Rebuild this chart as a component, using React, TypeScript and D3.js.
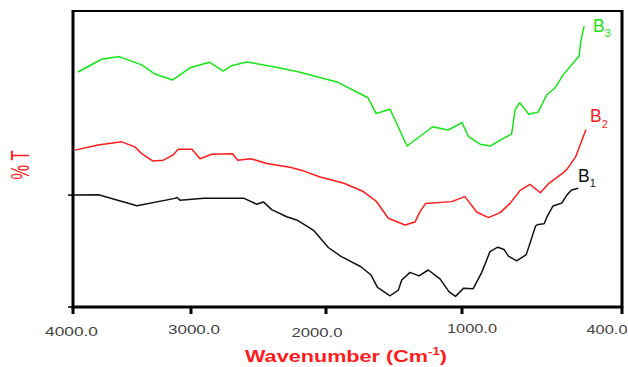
import { line, scaleLinear } from 'd3'

// wavenumber (cm-1), %T
const seriesB3: [number, number][] = [
	[3958, 79.4], [3757, 83.7], [3608, 84.6], [3418, 81.8], [3305, 78.7], [3155, 76.7], [3008, 80.8],
	[2864, 82.7], [2761, 79.7], [2706, 81.4], [2587, 82.8], [2390, 81.2], [2207, 79.5], [1912, 75.9],
	[1691, 70.7], [1632, 65.4], [1529, 66.8], [1404, 54.4], [1215, 60.9], [1101, 59.8], [1000, 62.3],
	[976, 57.6], [932, 55.0], [892, 54.4], [857, 56.4], [814, 58.4], [801, 66.6], [784, 69.0],
	[749, 65.1], [714, 65.9], [682, 71.7], [651, 74.0], [620, 78.5], [561, 84.8], [554, 89.9], [542, 94.9],
]

const seriesB2: [number, number][] = [
	[3983, 53.0], [3788, 54.7], [3587, 55.8], [3475, 54.1], [3418, 51.8], [3322, 49.3], [3235, 49.6],
	[3150, 51.4], [3108, 53.3], [2993, 53.3], [2933, 50.1], [2847, 51.6], [2693, 51.8], [2653, 49.6],
	[2556, 50.1], [2439, 48.5], [2267, 47.2], [2168, 46.0], [2044, 43.9], [1868, 41.8], [1726, 39.0],
	[1632, 35.8], [1542, 30.0], [1419, 27.7], [1346, 28.7], [1309, 32.2], [1267, 35.0], [1076, 35.6],
	[989, 37.3], [945, 32.1], [901, 30.2], [857, 31.9], [820, 35.0], [782, 39.4], [745, 41.4],
	[706, 38.6], [676, 41.6], [620, 45.4], [606, 46.6], [574, 50.7], [535, 60.0],
]

const seriesB1: [number, number][] = [
	[3997, 37.8], [3784, 37.9], [3458, 34.2], [3136, 36.7], [3119, 37.0], [3093, 36.1], [2904, 36.7],
	[2607, 36.7], [2513, 34.7], [2464, 35.5], [2402, 32.9], [2291, 30.5], [2217, 29.4], [2094, 26.0],
	[1983, 20.1], [1890, 17.1], [1743, 13.6], [1669, 10.8], [1621, 6.6], [1529, 3.8], [1468, 5.7],
	[1443, 9.1], [1382, 11.7], [1316, 10.5], [1248, 12.5], [1162, 9.5], [1096, 5.2], [1048, 3.6],
	[1002, 5.7], [995, 6.3], [958, 6.2], [926, 11.7], [895, 18.7], [866, 20.2], [842, 19.4],
	[826, 17.2], [795, 15.6], [759, 17.7], [724, 27.4], [714, 27.9], [692, 28.1], [681, 30.5],
	[659, 34.1], [639, 34.7], [626, 35.1], [607, 37.8], [589, 39.5], [564, 40.1],
]

const xTicks = [4000, 3000, 2000, 1000, 400]
const xTickLabels = ['4000.0', '3000.0', '2000.0', '1000.0', '400.0']
const yTicks = [0, 37.8]

// the original axis is not linear: each 1000 cm-1 gets its own width
const x = scaleLinear().domain([4000, 3000, 2000, 1000, 400]).range([73, 191, 326, 462, 622])
const y = scaleLinear().domain([0, 100]).range([307, 11])

// label placement (labels do not sit exactly on ticks)
const labelLayout = [
	{ dx: -1.5, y: 336, w: 53 },
	{ dx: 3, y: 334, w: 52 },
	{ dx: -9, y: 337, w: 51 },
	{ dx: 10, y: 333, w: 50 },
	{ dx: -15, y: 334, w: 41 },
]

const GREEN = '#14e614'
const RED = '#ff1c1c'
const BLACK = '#111111'
const FONT = 'Arial, "Liberation Sans", sans-serif'

export default function App() {
	const path = line<[number, number]>()
		.x((d) => x(d[0]))
		.y((d) => y(d[1]))

	const series = [
		{ data: seriesB3, color: GREEN },
		{ data: seriesB2, color: RED },
		{ data: seriesB1, color: BLACK },
	]

	return (
		<svg
			width={628}
			height={367}
			viewBox="0 0 628 367"
			style={{ position: 'absolute', left: 0, top: 0, background: '#fff' }}
			fontFamily={FONT}
		>
			{series.map((s) => (
				<path key={s.color} d={path(s.data) ?? ''} fill="none" stroke={s.color} strokeWidth={1.5} strokeLinejoin="round" />
			))}

			{/* frame */}
			<line x1={73} x2={622} y1={11} y2={11} stroke="#000" strokeWidth={2} />
			<line x1={622} x2={622} y1={10} y2={308} stroke="#000" strokeWidth={3} />
			<line x1={73} x2={73} y1={10} y2={309} stroke="#000" strokeWidth={3} />
			<line x1={72} x2={623} y1={307} y2={307} stroke="#000" strokeWidth={3} />

			{yTicks.map((t) => (
				<line key={t} x1={68} x2={73} y1={y(t)} y2={y(t)} stroke="#000" strokeWidth={1.5} />
			))}

			{xTicks.map((t, i) => (
				<g key={t}>
					<line x1={x(t)} x2={x(t)} y1={307} y2={314} stroke="#000" strokeWidth={3} />
					<text
						x={x(t) + labelLayout[i].dx}
						y={labelLayout[i].y}
						textAnchor="middle"
						fontSize={12.5}
						fill="#444"
						textLength={labelLayout[i].w}
						lengthAdjust="spacingAndGlyphs"
					>
						{xTickLabels[i]}
					</text>
				</g>
			))}

			<text
				x={346}
				y={362}
				textAnchor="middle"
				fontSize={16.5}
				fontWeight="bold"
				fill={RED}
				textLength={202}
				lengthAdjust="spacingAndGlyphs"
			>
				Wavenumber (Cm<tspan dy={-7} fontSize={10}>-1</tspan>
				<tspan dy={7}>)</tspan>
			</text>

			<text
				transform="translate(29,165) rotate(-90)"
				textAnchor="middle"
				fontSize={26}
				fill={RED}
				textLength={29}
				lengthAdjust="spacingAndGlyphs"
			>
				% T
			</text>

			<text x={593} y={32} fontSize={17.5} fill={GREEN}>
				B<tspan dy={5} fontSize={11}>3</tspan>
			</text>
			<text x={590} y={122} fontSize={17.5} fill={RED}>
				B<tspan dy={6} fontSize={11}>2</tspan>
			</text>
			<text x={578} y={182} fontSize={17.5} fill={BLACK}>
				B<tspan dy={5} fontSize={11}>1</tspan>
			</text>
		</svg>
	)
}
